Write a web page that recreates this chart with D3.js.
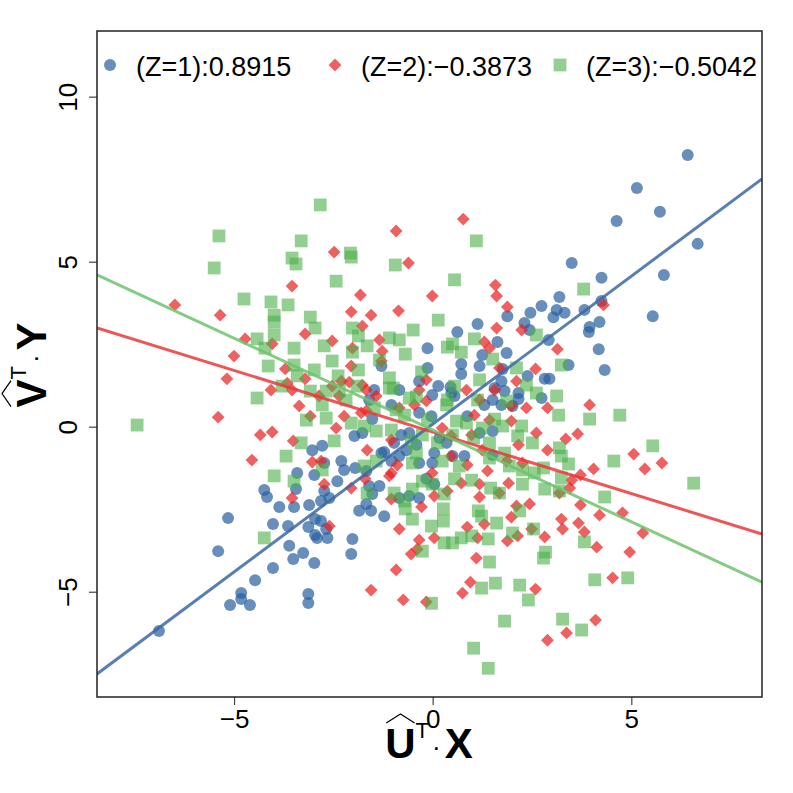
<!DOCTYPE html>
<html>
<head>
<meta charset="utf-8">
<style>
  body { margin: 0; background: #fff; }
  svg { font-family: "Liberation Sans", Arial, sans-serif; }
</style>
</head>
<body>
<svg id="svg" width="793" height="793"></svg>
<script src="https://d3js.org/d3.v7.min.js"></script>
<script>

// ----------------------------------------------------------------------------
//                                 DATA
// ----------------------------------------------------------------------------
// Points, [x, y] per point.
var z1Points = [
  [6.42,8.23],[5.14,7.23],[5.72,6.51],[4.63,6.23],[6.67,5.54],[3.50,4.96],[4.25,4.51],[5.82,4.60],
  [3.19,3.93],[2.74,3.66],[3.12,3.54],[3.32,3.45],[3.04,3.32],[3.82,3.54],[4.25,3.81],[5.54,3.35],
  [3.95,3.02],[3.93,2.87],[4.20,3.17],[2.92,2.63],[4.18,2.35],[3.42,1.87],[4.33,1.72],[2.82,1.45],
  [2.94,1.45],[2.74,0.87],[1.88,3.35],[2.46,3.45],[1.13,3.11],[2.31,3.14],[0.62,2.87],
  [2.44,2.93],[1.63,2.57],[-0.13,2.38],[1.25,2.17],[1.86,2.23],[0.72,1.90],[1.18,1.84],[-0.13,1.78],
  [1.76,1.75],[-1.29,1.84],[0.72,1.60],[-0.34,1.38],[2.39,1.54],[1.73,1.38],[0.14,1.23],[0.45,1.20],
  [-1.47,1.11],[-0.84,1.11],[-0.01,0.96],[1.56,1.17],[1.81,1.08],[2.16,1.02],[0.47,1.02],[-1.60,0.81],
  [1.30,0.66],[1.51,0.81],[2.16,0.84],[0.55,0.93],[1.73,0.66],[-1.04,0.66],[-0.34,0.42],[-1.52,0.23],
  [-0.03,0.32],[0.87,0.32],[-1.97,-0.28],[-1.77,-0.19],[-2.78,-0.58],[-0.97,-0.49],[-0.79,-0.25],
  [-0.41,-0.55],[-0.59,-0.19],[0.17,-0.34],[0.35,-0.49],[1.18,-0.19],[1.51,-0.13],[2.01,0.63],
  [1.51,-0.86],[0.80,-0.89],[0.50,-0.89],[-0.01,-1.10],[0.04,-0.80],[-0.34,-1.10],[-0.84,-0.89],
  [-1.04,-1.04],[-1.22,-0.77],[-2.30,-1.04],[-2.23,-1.31],[-2.73,-1.10],[-1.95,-1.25],[-1.67,-1.34],
  [-1.29,-0.80],[-0.66,-0.71],[-3.03,-0.71],[-3.41,-1.40],[-2.98,-1.46],[-4.24,-1.92],[-4.17,-2.13],
  [-3.44,-1.89],[-3.86,-2.43],[-3.49,-2.43],[-3.11,-2.37],[-5.15,-2.77],[-4.02,-2.95],[-3.64,-3.01],
  [-3.13,-3.04],[-2.96,-2.80],[-2.96,-3.28],[-2.91,-3.37],[-5.40,-3.77],[-3.61,-3.61],[-3.26,-3.83],
  [-3.51,-4.01],[-2.98,-4.13],[-4.02,-4.28],[-4.47,-4.65],[-4.82,-5.04],[-4.82,-5.22],[-5.10,-5.40],
  [-4.60,-5.40],[-3.13,-5.07],[-3.13,-5.34],[-6.89,-6.19],[-2.40,-1.65],[-2.73,-1.95],[-2.60,-2.16],
  [-2.81,-2.25],[-1.60,-1.80],[-1.34,-1.80],[-1.52,-2.04],[-1.67,-2.34],[-1.85,-2.55],[-1.55,-2.55],
  [-1.22,-2.71],[-2.81,-2.86],[-2.68,-3.10],[-2.65,-3.37],[-2.02,-3.40],[-2.05,-3.86],[-0.84,-2.16],
  [-0.59,-2.10],[-0.34,-2.16],[-0.16,-1.58],[0.04,-1.74]
];

var z2Points = [
  [-0.92,5.93],[0.77,6.29],[-2.48,5.29],[-3.54,4.26],[-6.49,3.69],[-5.35,3.38],[-3.21,2.81],[-4.72,2.66],
  [-4.04,2.51],[-5.00,2.14],[-3.71,1.75],[-5.18,1.45],[-3.21,1.45],[-3.66,1.32],[-4.07,1.11],[-3.54,1.11],
  [-2.86,0.93],[-3.36,0.63],[-5.40,0.29],[-3.08,0.32],[-4.34,-0.25],[-4.04,-0.16],[-3.51,-0.43],
  [-4.55,-1.01],[-3.03,-1.07],[-3.54,-2.16],[-0.61,4.96],[1.58,4.29],[-1.82,3.99],[-0.01,3.96],
  [1.61,3.96],[1.88,3.63],[-2.05,3.48],[-1.55,3.38],[-0.86,3.51],[-1.77,3.05],[1.61,2.99],[2.24,2.93],
  [-2.53,2.60],[-1.34,2.63],[1.30,2.57],[1.43,2.38],[-2.02,2.38],[-1.27,2.29],[-1.29,1.99],[1.68,1.78],
  [2.59,1.75],[-2.05,1.84],[-2.30,1.38],[-2.10,1.35],[-0.16,1.42],[2.11,1.38],[-1.77,1.26],[-1.67,1.11],
  [-0.34,1.11],[0.85,1.11],[1.56,1.11],[-2.53,1.23],[-2.35,0.93],[-1.42,0.93],[-0.16,0.78],[1.18,0.81],
  [1.98,0.63],[2.36,0.57],[-0.84,0.57],[-0.46,0.66],[-1.80,0.42],[-2.23,0.32],[-1.67,0.48],[-2.43,-0.04],
  [-1.04,-0.40],[0.24,-0.04],[0.47,-0.28],[1.05,0.35],[0.98,-0.25],[1.25,-0.71],[1.43,0.20],[1.98,0.17],
  [2.61,-0.19],[2.16,-0.55],[2.26,-1.10],[1.86,-1.04],[0.87,-1.16],[0.47,-0.89],[-0.01,-1.40],
  [-0.89,-1.16],[-1.04,-1.40],[-1.65,-0.71],[-2.81,-1.04],[1.38,-1.34],[4.30,3.69],[3.14,2.35],
  [2.89,0.57],[3.95,0.66],[3.65,-0.22],[3.35,-0.37],[2.89,-0.71],[5.06,-0.83],[5.77,-1.10],[5.34,-1.28],
  [4.05,-1.28],[3.72,-1.46],[-2.73,-1.74],[-2.05,-1.86],[-1.70,-1.58],[-1.09,-1.49],[-1.04,-2.19],
  [-2.60,-3.01],[-0.84,-3.10],[-0.34,-3.43],[-0.54,-3.86],[-0.39,-3.71],[-0.92,-4.34],[-1.55,-4.95],
  [-0.74,-5.25],[-0.16,-5.31],[-0.28,-2.43],[0.04,-3.37],[0.04,-2.10],[0.37,-1.95],[0.72,-1.71],
  [1.18,-1.74],[1.18,-2.13],[1.68,-2.01],[1.91,-1.71],[0.87,-3.04],[1.13,-3.37],[1.30,-2.95],
  [1.10,-3.98],[0.95,-4.71],[0.75,-5.04],[1.98,-2.74],[2.14,-3.31],[1.88,-3.46],[2.11,-2.40],
  [2.44,-2.34],[2.49,-3.10],[2.59,-4.92],[3.50,-1.62],[3.45,-1.86],[3.19,-2.01],[3.72,-2.37],
  [4.20,-2.68],[4.78,-2.61],[3.24,-2.80],[3.27,-3.10],[3.67,-2.92],[3.82,-3.19],[2.82,-3.34],
  [4.13,-3.65],[5.29,-3.22],[4.96,-3.80],[4.53,-4.58],[4.10,-5.86],[3.37,-6.25],[2.89,-6.47]
];

var z3Points = [
  [-2.83,6.72],[-5.38,5.78],[-3.31,5.63],[-2.07,5.26],[1.10,5.63],[-5.50,4.81],[-3.54,5.11],[-3.44,4.93],
  [-4.75,3.87],[-4.07,3.78],[-3.64,3.69],[-3.99,3.38],[-3.99,3.17],[-3.08,3.32],[-2.96,2.99],[-3.99,2.78],
  [-4.42,2.66],[-4.22,2.38],[-3.49,2.38],[-4.14,1.84],[-3.49,1.87],[-2.98,1.72],[-3.41,1.54],[-3.79,1.23],
  [-3.08,1.08],[-4.42,0.87],[-3.18,0.20],[-7.44,0.05],[-3.31,-0.49],[-3.69,-0.89],[-3.99,-1.49],
  [-3.49,-1.65],[-4.24,-3.37],[-2.05,5.14],[-0.94,4.90],[-2.43,4.41],[0.55,4.45],[0.14,3.23],
  [-2.02,2.99],[2.61,2.78],[-0.49,2.93],[-1.09,2.69],[-0.84,2.63],[-1.87,2.75],[-1.65,2.45],[1.05,2.66],
  [0.37,2.41],[0.50,2.51],[-2.73,2.45],[-0.69,2.20],[0.72,2.26],[1.51,2.05],[-1.34,2.02],[-2.53,1.99],
  [-2.02,2.26],[2.11,1.78],[-1.87,1.72],[-0.28,1.66],[-2.38,1.54],[-1.09,1.48],[1.18,1.42],[0.55,1.23],
  [-1.09,1.17],[-0.99,1.17],[2.36,1.26],[-1.90,1.23],[2.61,1.02],[-2.68,1.08],[-2.35,1.11],[-2.18,0.81],
  [-0.59,0.87],[-0.41,0.90],[0.37,0.81],[0.35,0.66],[1.13,0.81],[1.86,0.78],[-0.92,0.51],[-0.71,0.35],
  [-1.47,0.57],[-2.78,0.66],[-2.68,0.26],[-1.72,0.02],[-2.05,0.11],[-1.42,-0.13],[-2.48,-0.43],
  [-1.04,-0.10],[-0.54,-0.43],[-0.26,-0.25],[-0.13,0.23],[0.12,-0.49],[0.50,-0.25],[0.60,0.17],
  [0.85,0.11],[1.25,-0.04],[1.03,-0.34],[1.43,-0.49],[1.56,0.23],[1.76,0.02],[2.24,0.02],[2.14,-0.28],
  [2.51,-0.49],[1.81,-0.80],[1.43,-0.95],[0.67,-1.19],[0.24,-1.04],[-0.41,-0.80],[-0.51,-1.10],
  [-1.42,-1.04],[-1.72,-1.19],[-2.78,-1.31],[2.26,-1.31],[1.93,-1.19],[2.56,-1.40],[3.80,4.17],
  [3.24,1.87],[3.12,0.93],[3.17,0.35],[3.95,0.23],[4.71,0.35],[5.54,-0.58],[4.56,-1.04],[3.19,-0.64],
  [3.24,-0.89],[3.42,-1.13],[2.79,-1.25],[-1.65,-2.01],[-0.97,-2.01],[-0.69,-2.49],[-0.51,-2.80],
  [-0.71,-2.25],[-0.51,-1.89],[-0.26,-1.65],[-0.01,-1.74],[0.29,-2.04],[0.27,-2.49],[0.27,-2.86],
  [-0.03,-3.01],[0.29,-3.52],[0.50,-3.52],[0.72,-3.37],[0.98,-3.31],[-0.26,-3.77],[-0.03,-5.35],
  [0.55,-1.58],[0.98,-1.62],[1.15,-2.55],[1.23,-2.71],[1.61,-2.92],[1.40,-3.40],[1.43,-4.10],
  [1.23,-4.89],[1.58,-4.74],[2.19,-4.80],[2.41,-5.25],[1.81,-5.89],[1.03,-6.71],[1.40,-7.32],
  [1.46,-1.86],[1.68,-2.01],[2.26,-1.74],[2.19,-2.55],[2.01,-3.22],[2.54,-3.10],[3.24,-1.55],
  [2.82,-1.89],[3.19,-1.95],[4.33,-2.13],[6.57,-1.71],[3.82,-3.49],[2.84,-3.80],[2.79,-3.98],
  [4.08,-4.64],[4.91,-4.58],[3.27,-5.83],[3.75,-6.16]
];

// Fitted lines per group: [intercept, slope]
var fitLines = [[0.08, 0.896], [-0.16, -0.373], [-0.10, -0.556]];

// Legend entries
var legendLabels = ["(Z=1):0.8915", "(Z=2):\u22120.3873", "(Z=3):\u22120.5042"];

// Axis ticks and limits
var xTicks = [-5, 0, 5];
var yTicks = [-5, 0, 5, 10];
var xLimits = [-8.45, 8.29];
var yLimits = [-8.19, 11.99];

// ----------------------------------------------------------------------------
//                               STYLES
// ----------------------------------------------------------------------------
var fills = ["rgba(40,95,160,0.7)", "rgba(232,30,30,0.7)", "rgba(77,175,74,0.6)"];
var lineColors = ["rgba(60,105,165,0.85)", "rgba(235,55,55,0.85)", "rgba(110,195,108,0.85)"];

var svg = d3.select("#svg"),
    plot = {left: 97, right: 762, top: 31, bottom: 697};

var x = d3.scaleLinear().domain(xLimits).range([plot.left, plot.right]),
    y = d3.scaleLinear().domain(yLimits).range([plot.bottom, plot.top]);

// Symbol drawing per group: circle, diamond, square
function drawSymbol(g, k, cx, cy) {
  if (k == 0) {
    g.append("circle").attr("cx", cx).attr("cy", cy).attr("r", 6)
      .attr("fill", fills[0]);
  } else if (k == 1) {
    var r = 6.4;
    g.append("path")
      .attr("d", "M" + cx + "," + (cy - r) + "L" + (cx + r) + "," + cy +
                 "L" + cx + "," + (cy + r) + "L" + (cx - r) + "," + cy + "Z")
      .attr("fill", fills[1]);
  } else {
    var s = 6.4;
    g.append("rect").attr("x", cx - s).attr("y", cy - s)
      .attr("width", 2 * s).attr("height", 2 * s)
      .attr("fill", fills[2]);
  }
}

// clip for the plot region
svg.append("clipPath").attr("id", "clip")
  .append("rect")
  .attr("x", plot.left).attr("y", plot.top)
  .attr("width", plot.right - plot.left).attr("height", plot.bottom - plot.top);

var pts = svg.append("g").attr("clip-path", "url(#clip)");

[z1Points, z2Points, z3Points].forEach(function(group, k) {
  var g = pts.append("g");
  group.forEach(function(d) { drawSymbol(g, k, x(d[0]), y(d[1])); });
});

// regression lines
var lines = svg.append("g").attr("clip-path", "url(#clip)");
fitLines.forEach(function(c, k) {
  lines.append("line")
    .attr("x1", x(xLimits[0])).attr("y1", y(c[0] + c[1] * xLimits[0]))
    .attr("x2", x(xLimits[1])).attr("y2", y(c[0] + c[1] * xLimits[1]))
    .attr("stroke", lineColors[k])
    .attr("stroke-width", 3);
});

// ----------------------------------------------------------------------------
//                                AXES
// ----------------------------------------------------------------------------
var xAxis = svg.append("g")
    .attr("transform", "translate(0," + plot.bottom + ")")
    .call(d3.axisBottom(x).tickValues(xTicks).tickSize(8).tickPadding(5));

var yAxis = svg.append("g")
    .attr("transform", "translate(" + plot.left + ",0)")
    .call(d3.axisLeft(y).tickValues(yTicks).tickSize(8));

[xAxis, yAxis].forEach(function(a) {
  a.select(".domain").remove();
  a.selectAll(".tick line").attr("stroke", "#444").attr("stroke-width", 1.2);
  a.selectAll(".tick text")
    .attr("font-size", 26).attr("fill", "#000")
    .attr("font-family", "Liberation Sans, Arial, sans-serif");
});

// rotate y labels like R (las = 0)
yAxis.selectAll(".tick text")
  .attr("x", null).attr("dy", null)
  .attr("text-anchor", "middle")
  .attr("transform", "translate(-20,0) rotate(-90)");

// box
svg.append("rect")
  .attr("x", plot.left).attr("y", plot.top)
  .attr("width", plot.right - plot.left).attr("height", plot.bottom - plot.top)
  .attr("fill", "none").attr("stroke", "#222").attr("stroke-width", 1.5);

// ----------------------------------------------------------------------------
//                              AXIS LABELS
// ----------------------------------------------------------------------------
function mathLabel(g, big, small) {
  var t = g.append("text").attr("text-anchor", "middle").attr("fill", "#000");
  t.append("tspan").attr("font-weight", "bold").attr("font-size", 42).text(big[0]);
  t.append("tspan").attr("font-size", 22).attr("dy", -20).text(small);
  t.append("tspan").attr("font-size", 26).attr("dy", 18).attr("dx", 3).text("\u00b7");
  t.append("tspan").attr("font-weight", "bold").attr("font-size", 42)
    .attr("dx", 4).attr("dy", 2).text(big[1]);
  // wide hat over the first letter
  var b = t.node().getExtentOfChar(0);
  var x0 = b.x, x1 = b.x + b.width, base = 0;
  g.append("path")
    .attr("d", "M" + (x0 + 1) + "," + (base - 35) + "L" + ((x0 + x1) / 2) + "," + (base - 44) +
               "L" + (x1 - 1) + "," + (base - 35))
    .attr("fill", "none").attr("stroke", "#000").attr("stroke-width", 1.2);
}

mathLabel(svg.append("g").attr("transform", "translate(429,758)"), ["U", "X"], "T");
mathLabel(svg.append("g").attr("transform", "translate(46,365) rotate(-90)"), ["V", "Y"], "T");

// ----------------------------------------------------------------------------
//                                LEGEND
// ----------------------------------------------------------------------------
var legend = svg.append("g");
legendLabels.forEach(function(lab, k) {
  var lx = 110 + k * 225, ly = 65;
  drawSymbol(legend, k, lx, ly);
  legend.append("text")
    .attr("x", lx + 26).attr("y", ly + 10.5)
    .attr("font-size", 27).attr("fill", "#000")
    .text(lab);
});

</script>
</body>
</html>
